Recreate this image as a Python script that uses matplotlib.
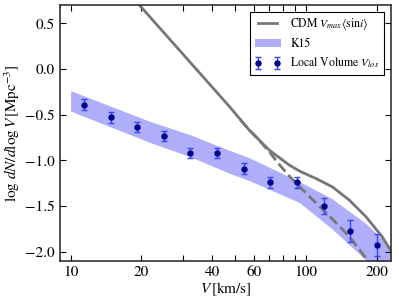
import numpy as np
import matplotlib
matplotlib.use("Agg")
import matplotlib.pyplot as plt
from matplotlib.ticker import FixedLocator, FixedFormatter, NullFormatter

plt.rcParams['font.family'] = 'STIXGeneral'
plt.rcParams['mathtext.fontset'] = 'stix'

# Local Volume V_los counts
v_lv = [11.4, 14.8, 19.2, 24.9, 32.3, 41.8, 54.3, 70.3, 91.6, 118.8, 154.0, 200.0]
y_lv = [-0.39, -0.53, -0.63, -0.73, -0.92, -0.92, -1.09, -1.24, -1.24, -1.50, -1.77, -1.92]
e_lv = [0.06, 0.055, 0.055, 0.055, 0.055, 0.055, 0.06, 0.06, 0.06, 0.09, 0.12, 0.12]

# K15 band edges
v_band = [10.0, 21.6, 32.3, 47.3, 57.4, 93.8, 129.4, 180.0, 230.0]
y_band_hi = [-0.237, -0.57, -0.72, -0.89, -0.97, -1.23, -1.42, -1.69, -1.95]
y_band_lo = [-0.46, -0.80, -0.96, -1.14, -1.22, -1.46, -1.75, -2.09, -2.37]

# CDM Vmax <sin i>
v_cdm = [15.0, 19.6, 47.3, 57.4, 69.8, 84.9, 93.8, 103.3, 110.0, 129.4, 152.8, 180.0, 211.0, 230.0]
y_cdm = [1.04, 0.70, -0.41, -0.667, -0.886, -1.05, -1.115, -1.165, -1.196, -1.288, -1.433, -1.616, -1.835, -1.99]

# dashed CDM variant
v_dash = [52.5, 57.4, 62.4, 69.8, 77.1, 84.9, 93.8, 129.4, 152.8, 180.0, 190.5]
y_dash = [-0.55, -0.667, -0.76, -0.905, -1.045, -1.17, -1.285, -1.64, -1.83, -2.07, -2.16]

fig = plt.figure(figsize=(3.99, 3.04), dpi=100)
ax = fig.add_axes([0.150, 0.1414, 0.830, 0.842])

ax.fill_between(v_band, y_band_lo, y_band_hi, color='#aeaefb', lw=0, label='K15')
ax.plot(v_cdm, y_cdm, color='#777777', lw=2, label=r'CDM $V_{max}\langle{\rm sin}i\rangle$')
ax.plot(v_dash, y_dash, color='#777777', lw=2, ls='--')
ax.errorbar(v_lv, y_lv, yerr=e_lv, fmt='o', color='#00008b', ms=3.6,
            ecolor='#3344ff', elinewidth=1, capsize=2.5, capthick=1,
            label=r'Local Volume $V_{los}$')

ax.set_xscale('log')
ax.set_xlim(9, 230)
ax.set_ylim(-2.1, 0.7)

xt = [10, 20, 30, 40, 50, 60, 70, 80, 90, 100, 200]
xl = ['10', '20', '', '40', '', '60', '', '', '', '100', '200']
ax.xaxis.set_major_locator(FixedLocator(xt))
ax.xaxis.set_major_formatter(FixedFormatter(xl))
ax.xaxis.set_minor_formatter(NullFormatter())
ax.set_yticks([0.5, 0.0, -0.5, -1.0, -1.5, -2.0])
ax.yaxis.set_major_formatter(FixedFormatter(['0.5', '0.0', '\u22120.5', '\u22121.0', '\u22121.5', '\u22122.0']))

ax.tick_params(which='both', direction='in', top=True, right=True, labelsize=11)
ax.tick_params(which='major', length=4)
ax.tick_params(which='minor', length=2)
for s in ax.spines.values():
    s.set_color('#333333')
    s.set_linewidth(1.2)

ax.set_xlabel(r'$V\,[{\rm km/s}]$', fontsize=11, labelpad=1)
ax.set_ylabel(r'$\log\,dN/d\log V\,[{\rm Mpc}^{-3}]$', fontsize=11, labelpad=2)

h, l = ax.get_legend_handles_labels()
order = [l.index(r'CDM $V_{max}\langle{\rm sin}i\rangle$'), l.index('K15'), l.index(r'Local Volume $V_{los}$')]
leg = ax.legend([h[i] for i in order], [l[i] for i in order], loc='upper right',
                bbox_to_anchor=(0.979, 0.974), borderaxespad=0,
                fontsize=8.5, numpoints=2, fancybox=False, framealpha=1,
                handlelength=2.2)
leg.get_frame().set_edgecolor('black')
leg.get_frame().set_linewidth(0.8)

fig.savefig('out.png', dpi=100)
